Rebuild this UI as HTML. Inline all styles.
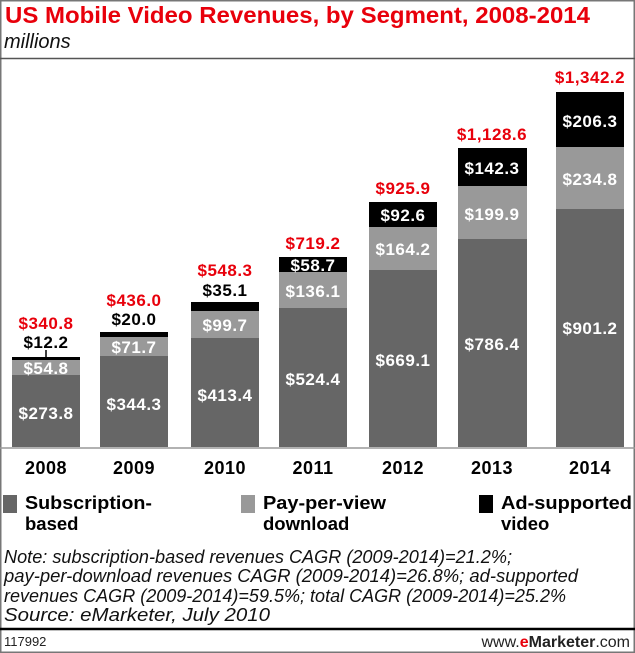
<!DOCTYPE html>
<html><head><style>
body{margin:0;background:#fff}
svg{display:block}
text{font-family:"Liberation Sans",sans-serif}
.b{font-weight:bold}
.w{fill:#fff;font-weight:bold;font-size:17px;text-anchor:middle;letter-spacing:0.5px}
.r{fill:#e8000b;font-weight:bold;font-size:17px;text-anchor:middle;letter-spacing:0.5px}
.k{fill:#000;font-weight:bold;font-size:17px;text-anchor:middle;letter-spacing:0.5px}
.y{fill:#000;font-weight:bold;font-size:18px;text-anchor:middle;letter-spacing:0.5px}
.n{font-style:italic;font-size:18px;fill:#111}
.l{font-weight:bold;font-size:18.5px}
</style></head><body>
<svg width="635" height="653" viewBox="0 0 635 653">
<rect x="0.5" y="0.5" width="634" height="652" fill="#fff" stroke="#777" stroke-width="2"/>
<text x="5" y="23" class="b" font-size="23" fill="#e8000b" textLength="585" lengthAdjust="spacingAndGlyphs">US Mobile Video Revenues, by Segment, 2008-2014</text>
<text x="4" y="48" font-size="20" font-style="italic" fill="#111">millions</text>
<line x1="0" y1="58.5" x2="635" y2="58.5" stroke="#555" stroke-width="1.5"/>
<line x1="0" y1="448" x2="635" y2="448" stroke="#999" stroke-width="1.5"/>
<g>
<rect x="12" y="375" width="68" height="72" fill="#666"/>
<rect x="12" y="360" width="68" height="15" fill="#999"/>
<rect x="12" y="357" width="68" height="3" fill="#000"/>
<line x1="46" y1="350" x2="46" y2="357" stroke="#000" stroke-width="1.5"/>
<text x="46" y="419" class="w">$273.8</text><text x="46" y="374" class="w">$54.8</text>
<text x="46" y="348" class="k">$12.2</text><text x="46" y="329" class="r">$340.8</text>
<rect x="100" y="356" width="68" height="91" fill="#666"/>
<rect x="100" y="337" width="68" height="19" fill="#999"/>
<rect x="100" y="332" width="68" height="5" fill="#000"/>
<text x="134" y="410" class="w">$344.3</text><text x="134" y="353" class="w">$71.7</text>
<text x="134" y="325" class="k">$20.0</text><text x="134" y="306" class="r">$436.0</text>
<rect x="191" y="338" width="68" height="109" fill="#666"/>
<rect x="191" y="311" width="68" height="27" fill="#999"/>
<rect x="191" y="302" width="68" height="9" fill="#000"/>
<text x="225" y="401" class="w">$413.4</text><text x="225" y="331" class="w">$99.7</text>
<text x="225" y="296" class="k">$35.1</text><text x="225" y="276" class="r">$548.3</text>
<rect x="279" y="308" width="68" height="139" fill="#666"/>
<rect x="279" y="272" width="68" height="36" fill="#999"/>
<rect x="279" y="257" width="68" height="15" fill="#000"/>
<text x="313" y="385" class="w">$524.4</text><text x="313" y="297" class="w">$136.1</text>
<text x="313" y="271" class="w">$58.7</text><text x="313" y="249" class="r">$719.2</text>
<rect x="369" y="270" width="68" height="177" fill="#666"/>
<rect x="369" y="227" width="68" height="43" fill="#999"/>
<rect x="369" y="202" width="68" height="25" fill="#000"/>
<text x="403" y="366" class="w">$669.1</text><text x="403" y="255" class="w">$164.2</text>
<text x="403" y="221" class="w">$92.6</text><text x="403" y="194" class="r">$925.9</text>
<rect x="458" y="239" width="69" height="208" fill="#666"/>
<rect x="458" y="186" width="69" height="53" fill="#999"/>
<rect x="458" y="148" width="69" height="38" fill="#000"/>
<text x="492" y="350" class="w">$786.4</text><text x="492" y="220" class="w">$199.9</text>
<text x="492" y="174" class="w">$142.3</text><text x="492" y="140" class="r">$1,128.6</text>
<rect x="556" y="209" width="68" height="238" fill="#666"/>
<rect x="556" y="147" width="68" height="62" fill="#999"/>
<rect x="556" y="92" width="68" height="55" fill="#000"/>
<text x="590" y="334" class="w">$901.2</text><text x="590" y="185" class="w">$234.8</text>
<text x="590" y="127" class="w">$206.3</text><text x="590" y="83" class="r">$1,342.2</text>
</g>
<text x="46" y="474" class="y">2008</text><text x="134" y="474" class="y">2009</text>
<text x="225" y="474" class="y">2010</text><text x="313" y="474" class="y">2011</text>
<text x="403" y="474" class="y">2012</text><text x="492" y="474" class="y">2013</text>
<text x="590" y="474" class="y">2014</text>
<rect x="3" y="495" width="14" height="18" fill="#666"/>
<text x="25" y="509" class="l" textLength="127" lengthAdjust="spacingAndGlyphs">Subscription-</text>
<text x="25" y="530" class="l">based</text>
<rect x="241" y="495" width="14" height="18" fill="#999"/>
<text x="263" y="509" class="l" textLength="123" lengthAdjust="spacingAndGlyphs">Pay-per-view</text>
<text x="263" y="530" class="l">download</text>
<rect x="479" y="495" width="14" height="18" fill="#000"/>
<text x="501" y="509" class="l" textLength="131" lengthAdjust="spacingAndGlyphs">Ad-supported</text>
<text x="501" y="530" class="l">video</text>
<text x="4" y="563" class="n" textLength="508" lengthAdjust="spacingAndGlyphs">Note: subscription-based revenues CAGR (2009-2014)=21.2%;</text>
<text x="4" y="582" class="n" textLength="574" lengthAdjust="spacingAndGlyphs">pay-per-download revenues CAGR (2009-2014)=26.8%; ad-supported</text>
<text x="4" y="602" class="n" textLength="562" lengthAdjust="spacingAndGlyphs">revenues CAGR (2009-2014)=59.5%; total CAGR (2009-2014)=25.2%</text>
<text x="4" y="621" class="n" textLength="266" lengthAdjust="spacingAndGlyphs">Source: eMarketer, July 2010</text>
<line x1="0" y1="629" x2="635" y2="629" stroke="#000" stroke-width="2.5"/>
<text x="4" y="646" font-size="13" fill="#222">117992</text>
<text x="630" y="647" font-size="16" fill="#222" text-anchor="end">www.<tspan fill="#e8000b" font-weight="bold">e</tspan><tspan font-weight="bold">Marketer</tspan>.com</text>
</svg>
</body></html>
